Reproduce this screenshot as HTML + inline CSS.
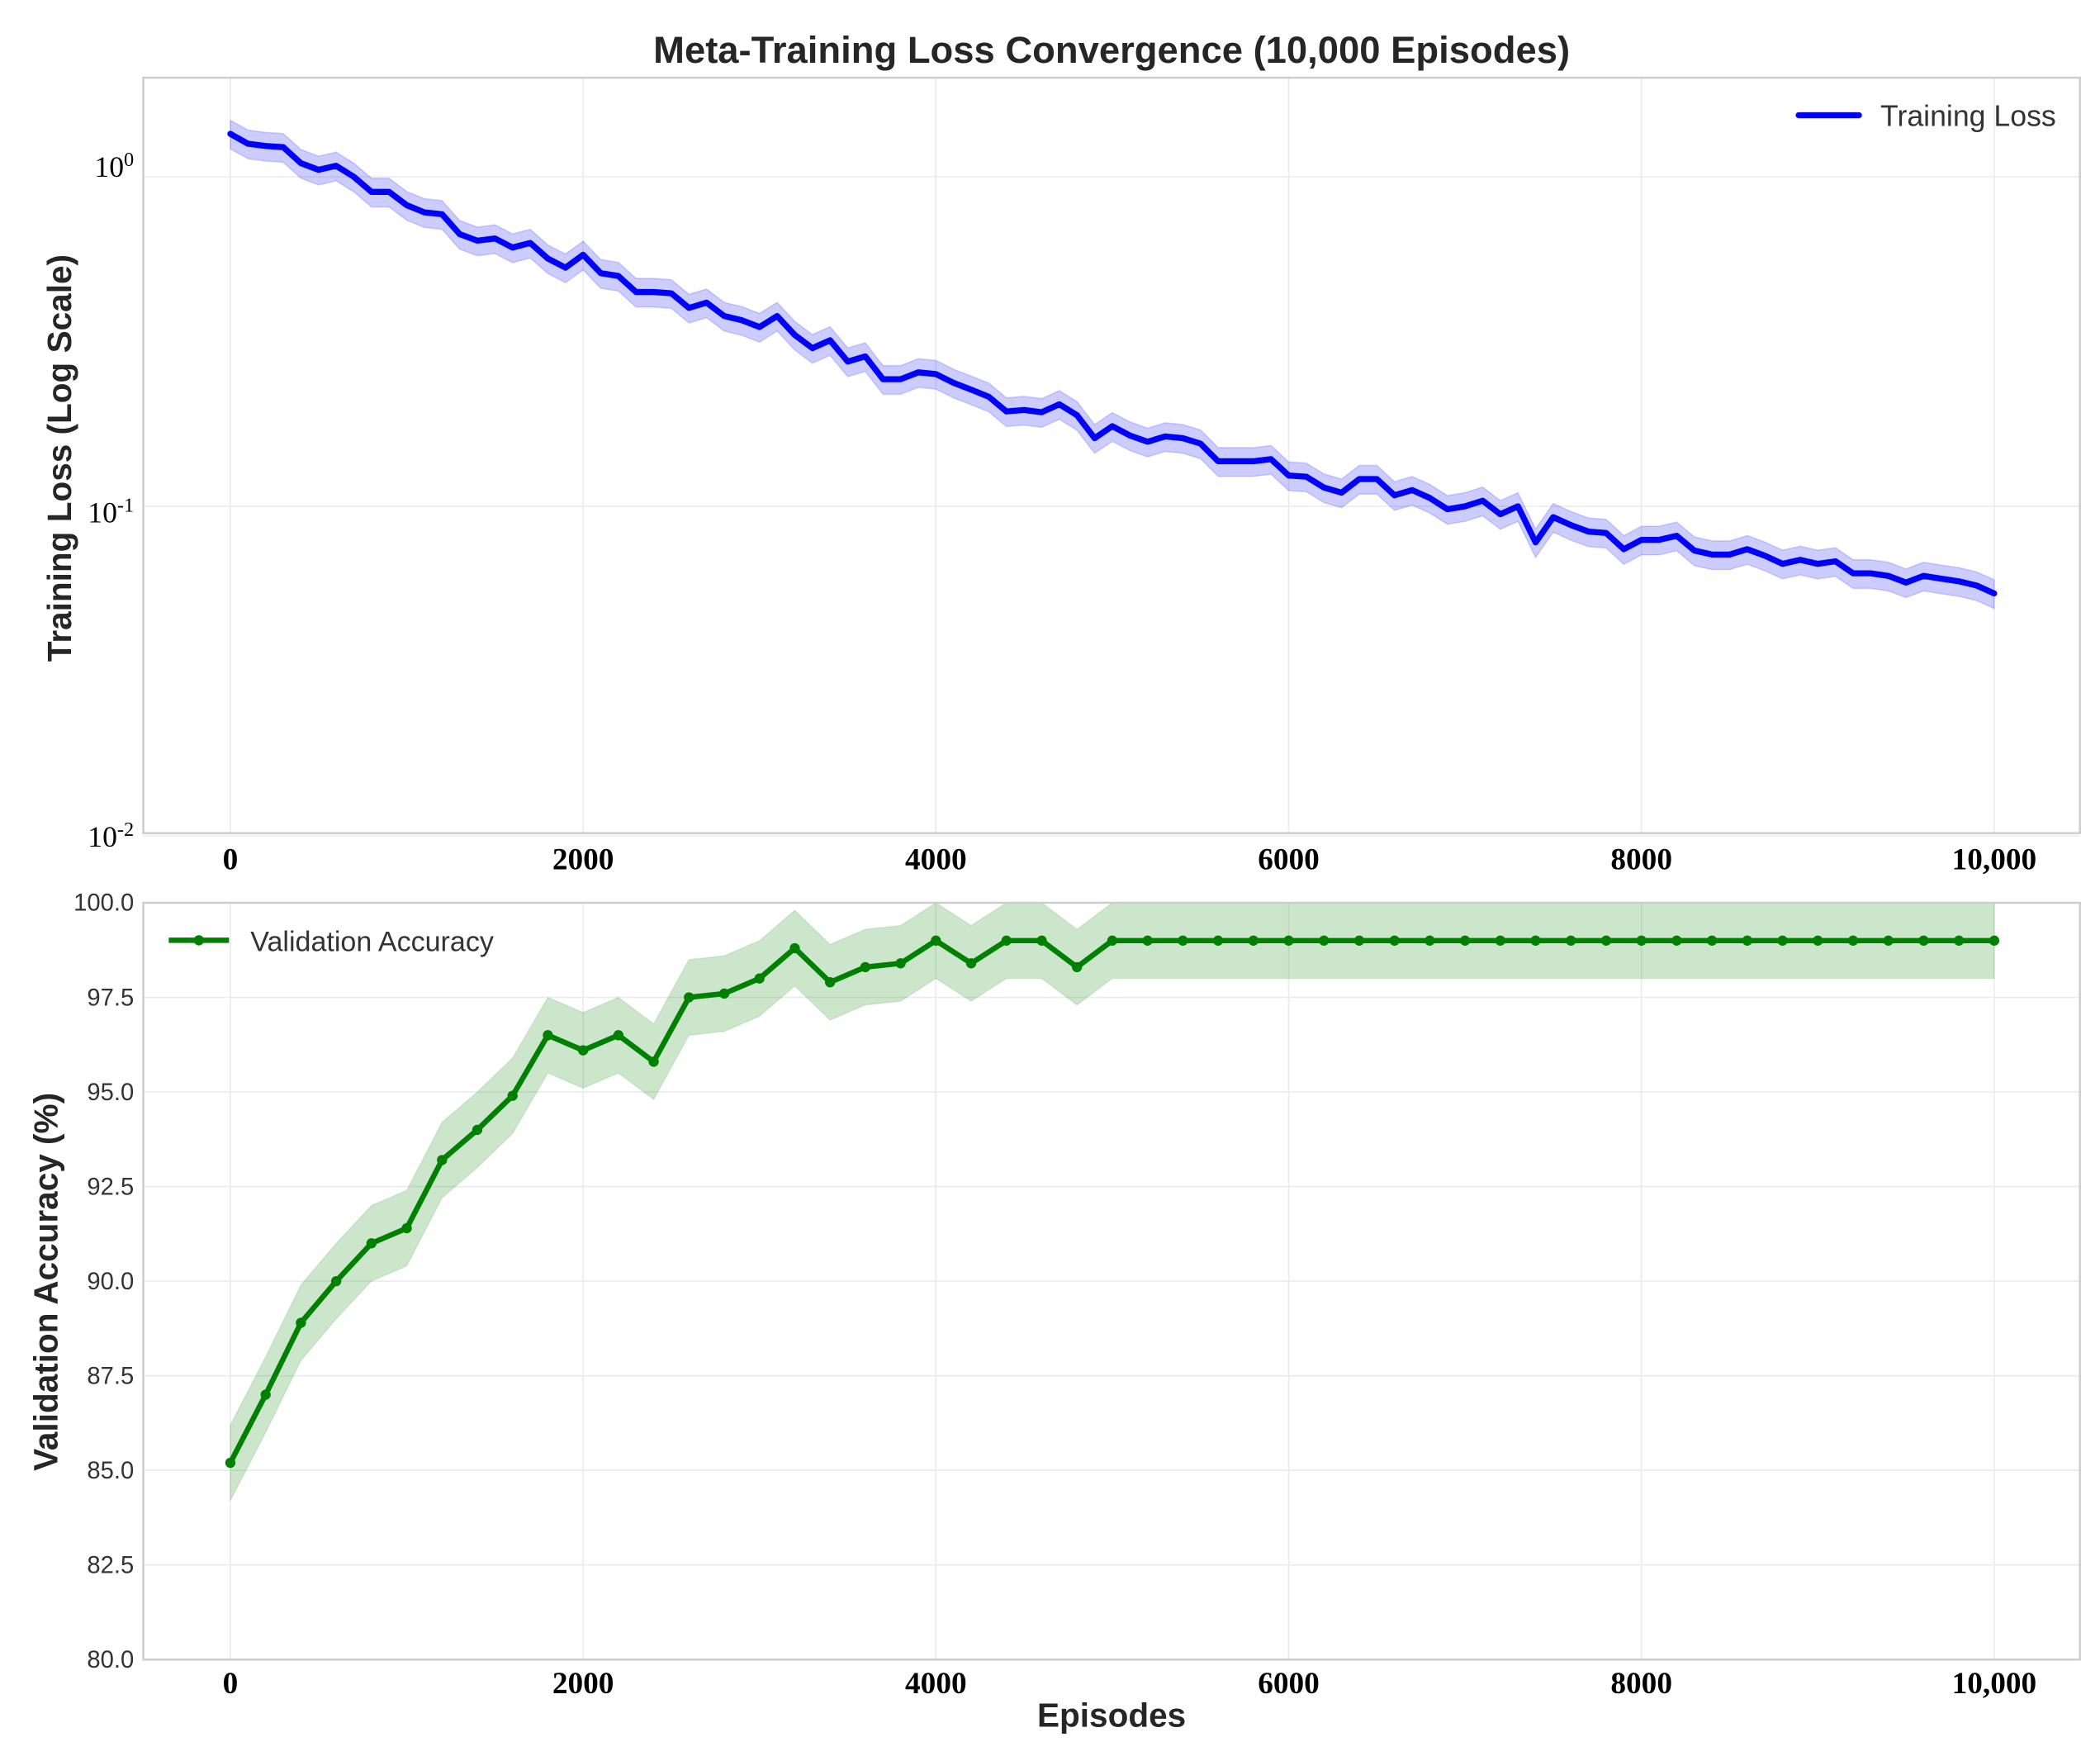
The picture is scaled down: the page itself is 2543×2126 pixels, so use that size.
<!DOCTYPE html>
<html><head><meta charset="utf-8"><style>
html,body{margin:0;padding:0;background:#fff;}
svg{display:block;}
</style></head><body>
<svg id="chart" width="2543" height="2126" viewBox="0 0 1568 1311" preserveAspectRatio="none" xmlns="http://www.w3.org/2000/svg">
<defs><clipPath id="ct"><rect x="107" y="58" width="1446" height="564"/></clipPath><clipPath id="cb"><rect x="107" y="674" width="1446" height="565"/></clipPath></defs>
<text x="830" y="47" text-anchor="middle" font-family="Liberation Sans, sans-serif" font-weight="bold" font-size="28" fill="#262626">Meta-Training Loss Convergence (10,000 Episodes)</text>
<g id="topgroup"></g>
<g id="botgroup"></g>
</svg>
<script>
const lossEpisodes = Array.from({length:101},(_,i)=>i*100);
const lossValues = [1.35,1.26,1.24,1.23,1.10,1.05,1.08,1.00,0.90,0.90,0.82,0.78,0.77,0.67,0.64,0.65,0.61,0.63,0.565,0.53,0.58,0.51,0.50,0.447,0.447,0.443,0.40,0.415,0.378,0.367,0.35,0.378,0.331,0.302,0.319,0.275,0.285,0.243,0.243,0.255,0.252,0.237,0.226,0.215,0.194,0.196,0.193,0.204,0.189,0.161,0.175,0.164,0.157,0.163,0.161,0.155,0.137,0.137,0.137,0.139,0.124,0.123,0.114,0.110,0.121,0.121,0.108,0.112,0.106,0.098,0.100,0.104,0.0946,0.100,0.0777,0.0927,0.0877,0.0838,0.083,0.0741,0.0791,0.0791,0.0814,0.0734,0.0714,0.0714,0.0741,0.0708,0.0669,0.0688,0.0669,0.0681,0.0626,0.0626,0.0615,0.0587,0.0615,0.0603,0.0592,0.0575,0.0544];
const lossBand = 0.1;
const accEpisodes = Array.from({length:51},(_,i)=>i*200);
const accValues = [85.2,87.0,88.9,90.0,91.0,91.4,93.2,94.0,94.9,96.5,96.1,96.5,95.8,97.5,97.6,98.0,98.8,97.9,98.3,98.4,99.0,98.4,99.0,99.0,98.3,99,99,99,99,99,99,99,99,99,99,99,99,99,99,99,99,99,99,99,99,99,99,99,99,99,99];
const accBand = 1.0;
const xTicks = [0,2000,4000,6000,8000,10000];
const xTickLabels = ["0","2000","4000","6000","8000","10,000"];
const logTicks = [0,-1,-2];
const accTicks = [80,82.5,85,87.5,90,92.5,95,97.5,100];

const NS="http://www.w3.org/2000/svg";
function mk(parent,tag,attrs,text){const e=document.createElementNS(NS,tag);for(const k in attrs)e.setAttribute(k,attrs[k]);if(text!==undefined)e.textContent=text;parent.appendChild(e);return e;}
function inc(p){return p===0?0:(p===-1?12:8);}
const X0=107,X1=1553;
const sx=v=>172+(v/10000)*(1489-172);

// ---------- top
const topG=document.getElementById('topgroup');
const T0=58,T1=622;
const sLog=v=>132-Math.log10(v)*246;
xTicks.forEach((t,i)=>{
  const g=mk(topG,'line',{x1:sx(t),x2:sx(t),y1:T0,y2:T1,stroke:'#ebebeb','stroke-width':1});
  
  
  const l=mk(topG,'text',{x:sx(t),y:649,'text-anchor':'middle','font-family':'Liberation Serif, serif','font-weight':'bold','font-size':23,fill:'#000'},xTickLabels[i]);
  
  
});
logTicks.forEach(p=>{
  const y=sLog(Math.pow(10,p));
  const g=mk(topG,'line',{x1:X0,x2:X1,y1:y,y2:y,stroke:'#ebebeb','stroke-width':1});
  
  
  const l=mk(topG,'text',{x:100,y:y+inc(p),'text-anchor':'end','font-family':'Liberation Serif, serif','font-size':22,fill:'#000'});
  mk(l,'tspan',{},'10');
  mk(l,'tspan',{dy:-8,'font-size':15},String(p));
  
  
});
let fr=mk(topG,'rect',{x:X0,y:T0,width:X1-X0,height:T1-T0,fill:'none',stroke:'#cccccc','stroke-width':1.5});


let up=lossEpisodes.map((e,i)=>sx(e)+','+sLog(lossValues[i]*(1+lossBand)));
let dn=lossEpisodes.map((e,i)=>sx(e)+','+sLog(lossValues[i]*(1-lossBand))).reverse();
let band=mk(topG,'polygon',{points:up.concat(dn).join(' '),fill:'#0000ff','fill-opacity':0.2,stroke:'#0000ff','stroke-opacity':0.15,'clip-path':'url(#ct)'});


let ln=mk(topG,'polyline',{points:lossEpisodes.map((e,i)=>sx(e)+','+sLog(lossValues[i])).join(' '),fill:'none',stroke:'#0000ff','stroke-width':4.5,'stroke-linejoin':'round','stroke-linecap':'round'});


let yl=mk(topG,'text',{x:53,y:342,transform:'rotate(-90 53 342)','text-anchor':'middle','font-family':'Liberation Sans, sans-serif','font-weight':'bold','font-size':25,fill:'#262626'},'Training Loss (Log Scale)');


let lg=mk(topG,'g',{});


mk(lg,'line',{x1:1343,x2:1388,y1:86,y2:86,stroke:'#0000ff','stroke-width':4.5,'stroke-linecap':'round'});
mk(lg,'text',{x:1404,y:94,'font-family':'Liberation Sans, sans-serif','font-size':22,fill:'#333'},'Training Loss');

// ---------- bottom
const botG=document.getElementById('botgroup');
const B0=674,B1=1239;
const sAcc=v=>B1-(v-80)/20*(B1-B0);
xTicks.forEach((t,i)=>{
  const g=mk(botG,'line',{x1:sx(t),x2:sx(t),y1:B0,y2:B1,stroke:'#ebebeb','stroke-width':1});
  
  
  const l=mk(botG,'text',{x:sx(t),y:1264,'text-anchor':'middle','font-family':'Liberation Serif, serif','font-weight':'bold','font-size':23,fill:'#000'},xTickLabels[i]);
  
  
});
accTicks.forEach(t=>{
  const y=sAcc(t);
  const g=mk(botG,'line',{x1:X0,x2:X1,y1:y,y2:y,stroke:'#ebebeb','stroke-width':1});
  
  
  const l=mk(botG,'text',{x:100,y:y+6,'text-anchor':'end','font-family':'Liberation Sans, sans-serif','font-size':18,fill:'#333'},t.toFixed(1));
  
  
});
let up2=accEpisodes.map((e,i)=>sx(e)+','+sAcc(accValues[i]+accBand));
let dn2=accEpisodes.map((e,i)=>sx(e)+','+sAcc(accValues[i]-accBand)).reverse();
let band2=mk(botG,'polygon',{points:up2.concat(dn2).join(' '),fill:'#008000','fill-opacity':0.2,stroke:'#008000','stroke-opacity':0.1,'clip-path':'url(#cb)'});


let fr2=mk(botG,'rect',{x:X0,y:B0,width:X1-X0,height:B1-B0,fill:'none',stroke:'#cccccc','stroke-width':1.5});


let ln2=mk(botG,'polyline',{points:accEpisodes.map((e,i)=>sx(e)+','+sAcc(accValues[i])).join(' '),fill:'none',stroke:'#008000','stroke-width':4,'stroke-linejoin':'round'});


accEpisodes.forEach((e,i)=>{
  const c=mk(botG,'circle',{cx:sx(e),cy:sAcc(accValues[i]),r:3.8,fill:'#008000'});
  
  
});
let yl2=mk(botG,'text',{x:43,y:957,transform:'rotate(-90 43 957)','text-anchor':'middle','font-family':'Liberation Sans, sans-serif','font-weight':'bold','font-size':25,fill:'#262626'},'Validation Accuracy (%)');


let xl=mk(botG,'text',{x:830,y:1289,'text-anchor':'middle','font-family':'Liberation Sans, sans-serif','font-weight':'bold','font-size':25,fill:'#262626'},'Episodes');


let lg2=mk(botG,'g',{});


mk(lg2,'line',{x1:126,x2:171,y1:702,y2:702,stroke:'#008000','stroke-width':4});
mk(lg2,'circle',{cx:148.5,cy:702,r:3.8,fill:'#008000'});
mk(lg2,'text',{x:187,y:710,'font-family':'Liberation Sans, sans-serif','font-size':21,fill:'#333'},'Validation Accuracy');
</script>
</body></html>
